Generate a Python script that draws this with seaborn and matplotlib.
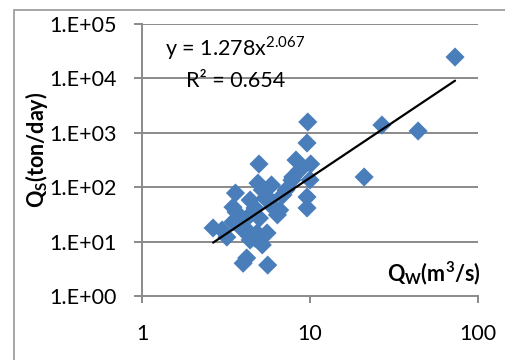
import numpy as np
import pandas as pd
import matplotlib
matplotlib.use("Agg")
import matplotlib.pyplot as plt
from matplotlib.patches import Rectangle
import seaborn as sns

# Water discharge (m3/s) and sediment discharge (ton/day)
q_water = [73, 44, 26.8, 21, 9.7, 9.6, 8.25, 10.1, 4.97, 4.9,
           7.9, 10, 5.9, 9.6, 6.9, 9.6, 4.7, 6.6, 3.6, 5.4,
           2.65, 3.2, 3.83, 4.84, 5.55, 4.4, 4.2, 5.6, 4.0, 3.48,
           6.0, 6.4, 7.8, 4.4, 4.1, 5.0, 3.48, 3.0, 5.2, 4.7,
           7.2, 8.7, 5.8, 4.0, 3.63, 5.2, 4.4]
q_sed = [24700, 1080, 1390, 154, 1580, 650, 316, 267, 267, 119,
         154, 136, 110, 66, 72, 41.5, 41.5, 38, 78, 63,
         17.8, 12.1, 22, 14.4, 14.4, 10.7, 5.0, 3.7, 4.0, 43,
         43, 31, 135, 31, 17.8, 27, 23, 16.3, 8.7, 11.6,
         89, 207, 58, 16.3, 35, 89, 58]

# Power-law trendline Qs = a * Qw^b
coef_a = 1.278
coef_b = 2.067
r_squared = 0.654

y_ticks = [1, 10, 100, 1e3, 1e4, 1e5]
y_tick_labels = ["1.E+00", "1.E+01", "1.E+02", "1.E+03", "1.E+04", "1.E+05"]
x_ticks = [1, 10, 100]
x_tick_labels = ["1", "10", "100"]

sns.set_theme(style="white")
plt.rcParams["font.family"] = ["Lato", "DejaVu Sans"]

df = pd.DataFrame({"Qw": q_water, "Qs": q_sed})
x_fit = np.geomspace(min(q_water), max(q_water), 100)
fit = pd.DataFrame({"Qw": x_fit, "Qs": coef_a * x_fit ** coef_b})

fig = plt.figure(figsize=(5.06, 3.60), dpi=100)
ax = fig.add_axes([142 / 506, 1 - 296 / 360, 336 / 506, 272 / 360])

grid_col = "#8a8a8a"
blue = "#4a7ebb"
fs = 15.5

ax.set_xscale("log")
ax.set_yscale("log")
ax.set_xlim(1, 100)
ax.set_ylim(1, 1e5)

for yv in y_ticks[1:]:
    ax.axhline(yv, color=grid_col, lw=1.4, zorder=0)

sns.scatterplot(data=df, x="Qw", y="Qs", marker="D", s=95, color=blue,
                edgecolor="none", linewidth=0, ax=ax, zorder=3)
sns.lineplot(data=fit, x="Qw", y="Qs", color="black", lw=1.6, ax=ax, zorder=4)

ax.set_yticks(y_ticks)
ax.set_yticklabels(y_tick_labels)
ax.set_xticks(x_ticks)
ax.set_xticklabels(x_tick_labels)
ax.minorticks_off()
ax.tick_params(axis="y", length=6, width=1.4, color=grid_col, pad=12,
               labelsize=fs, labelcolor="black", left=True)
ax.tick_params(axis="x", length=5, width=1.4, color=grid_col, pad=15,
               labelsize=fs, labelcolor="black", bottom=True)
ax.set_xlabel("")
ax.set_ylabel("")

for side in ("top", "right"):
    ax.spines[side].set_visible(False)
for side in ("left", "bottom"):
    ax.spines[side].set_color(grid_col)
    ax.spines[side].set_linewidth(1.4)

ax.text(0.277, 0.912, r"y = 1.278x$^\mathregular{2.067}$", transform=ax.transAxes,
        ha="center", va="center", fontsize=fs, color="black")
ax.text(0.28, 0.79, f"R² = {r_squared:.3f}", transform=ax.transAxes,
        ha="center", va="center", fontsize=fs, color="black")
ax.text(0.87, 0.082, r"Q$_\mathregular{W}$(m$^\mathregular{3}$/s)",
        transform=ax.transAxes, ha="center", va="center", fontsize=fs,
        fontweight="bold", color="black")
fig.text(37 / 506, 1 - 150 / 360, r"Q$_\mathregular{S}$(ton/day)",
         rotation=90, ha="center", va="center", fontsize=fs,
         fontweight="bold", color="black")

# chart-area frame
fig.patches.append(Rectangle((14 / 506, -0.1), 1.2, 1 - 10 / 360 + 0.1,
                             transform=fig.transFigure, fill=False,
                             edgecolor="#a6a6a6", linewidth=1.4))

fig.savefig("out.png", dpi=100, facecolor="white")
